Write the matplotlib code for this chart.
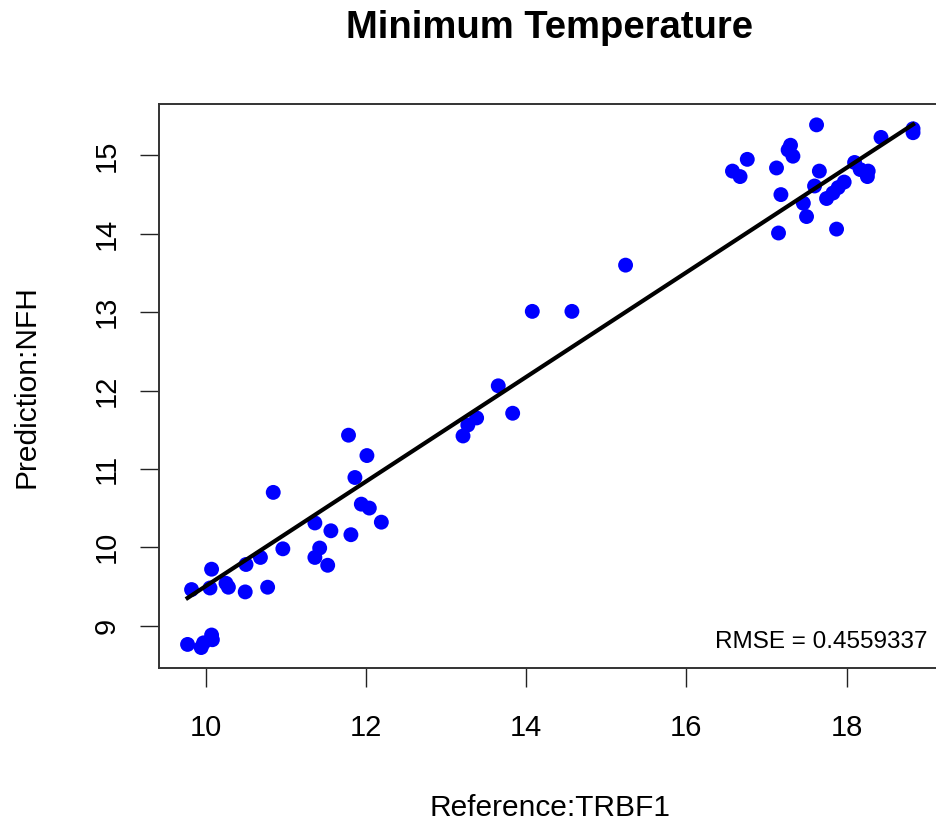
import numpy as np
import matplotlib
matplotlib.use("Agg")
import matplotlib.pyplot as plt

plt.rcParams["font.family"] = ["Liberation Sans", "DejaVu Sans"]

# Reference (TRBF1) vs prediction (NFH), minimum temperature
reference = [
    9.77, 9.94, 9.97, 10.07, 10.08, 9.82, 10.05, 10.07, 10.25, 10.28,
    10.49, 10.50, 10.68, 10.77, 10.84, 10.96, 11.36, 11.36, 11.42, 11.52,
    11.56, 11.81, 11.78, 11.86, 11.94, 12.04, 12.01, 12.19,
    13.21, 13.27, 13.38, 13.65, 13.83, 14.075, 14.57, 15.24,
    16.575, 16.67, 16.76, 17.125, 17.15, 17.18, 17.27, 17.30, 17.33, 17.46,
    17.50, 17.60, 17.625, 17.66, 17.75, 17.83, 17.875, 17.895, 17.97, 18.10,
    18.17, 18.27, 18.26, 18.43, 18.83, 18.83,
]
prediction = [
    8.76, 8.72, 8.78, 8.88, 8.82, 9.46, 9.48, 9.72, 9.54, 9.49,
    9.43, 9.78, 9.87, 9.49, 10.70, 9.98, 10.31, 9.87, 9.99, 9.77,
    10.21, 10.16, 11.43, 10.89, 10.55, 10.50, 11.17, 10.32,
    11.42, 11.56, 11.65, 12.06, 11.71, 13.01, 13.01, 13.60,
    14.80, 14.73, 14.95, 14.84, 14.01, 14.50, 15.07, 15.13, 14.99, 14.39,
    14.22, 14.61, 15.39, 14.80, 14.45, 14.52, 14.06, 14.59, 14.66, 14.91,
    14.82, 14.80, 14.73, 15.23, 15.34, 15.29,
]
# fitted line
fit_intercept = 2.836
fit_slope = 0.667
xticks = [10, 12, 14, 16, 18]
yticks = [9, 10, 11, 12, 13, 14, 15]
rmse_label = "RMSE = 0.4559337"

x = np.array(reference)
y = np.array(prediction)

fig = plt.figure(figsize=(9.37, 8.27), dpi=100)
ax = fig.add_axes([0.1692, 0.1917, 0.8362, 0.6826])

ax.scatter(x, y, s=115, color="#0000FF", edgecolors="none", zorder=3)

xs = np.array([x.min(), x.max()])
ax.plot(xs, fit_intercept + fit_slope * xs, color="black", lw=3, zorder=4)

# R-style 4% padding
xr = x.max() - x.min()
yr = y.max() - y.min()
ax.set_xlim(x.min() - 0.04 * xr, x.max() + 0.04 * xr)
ax.set_ylim(y.min() - 0.04 * yr, y.max() + 0.04 * yr)

ax.set_xticks(xticks)
ax.set_yticks(yticks)
ax.tick_params(axis="both", direction="out", length=13.5, width=1.0,
               labelsize=21, color="#222222")
ax.tick_params(axis="x", pad=19)
ax.tick_params(axis="y", pad=14)
for lab in ax.get_yticklabels():
    lab.set_rotation(90)
    lab.set_va("center")

for sp in ax.spines.values():
    sp.set_linewidth(1.4)
    sp.set_color("#333333")

ax.set_xlabel("Reference:TRBF1", fontsize=21.5)
ax.set_ylabel("Prediction:NFH", fontsize=21.5)
ax.xaxis.set_label_coords(0.5, -0.247)
ax.xaxis.label.set_va("center")
ax.yaxis.set_label_coords(-0.169, 0.5)
ax.yaxis.label.set_va("center")

ax.text(0.982, 0.047, rmse_label, transform=ax.transAxes,
        ha="right", va="center", fontsize=17.5)

fig.text(550 / 937, 1 - 38.5 / 827, "Minimum Temperature",
         ha="center", va="baseline", fontsize=27.5, fontweight="bold")

fig.savefig("out.png", dpi=100)
plt.close(fig)
